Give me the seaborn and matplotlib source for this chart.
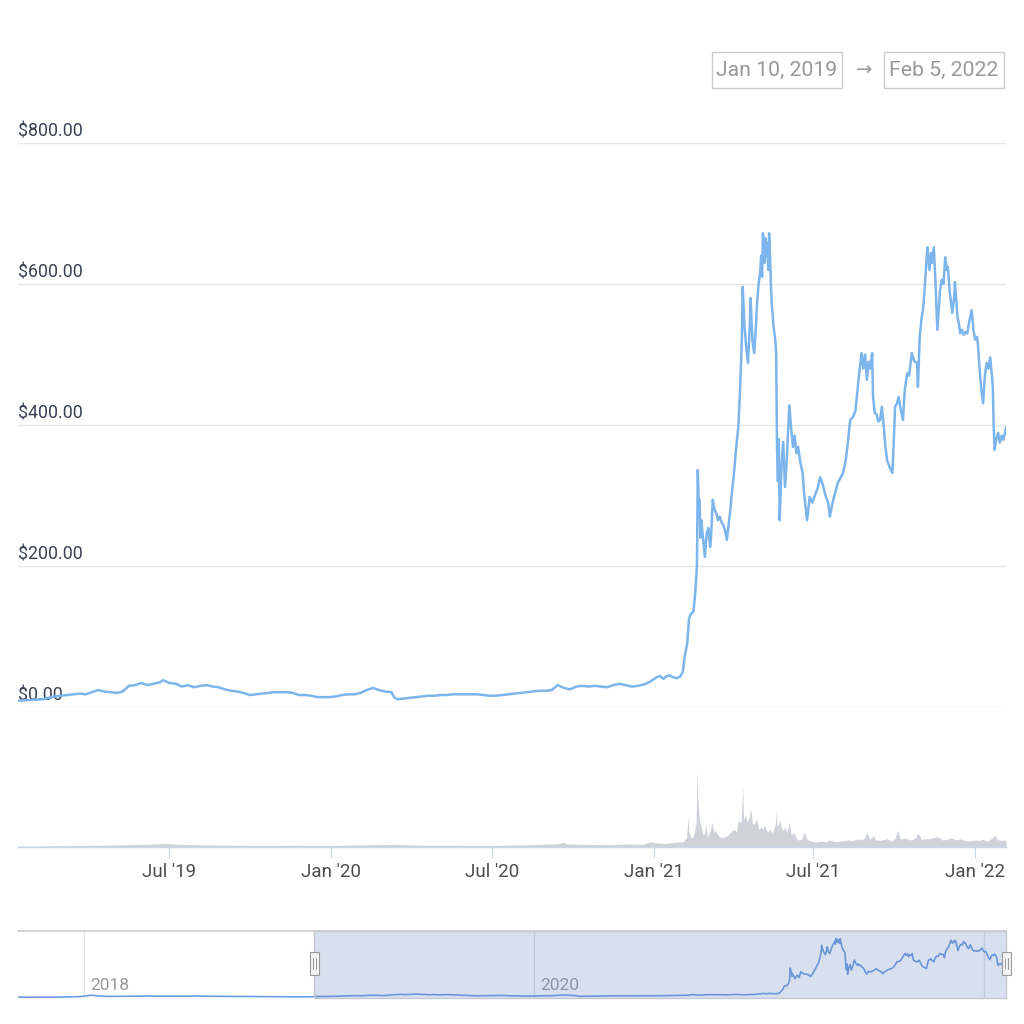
import matplotlib
matplotlib.use("Agg")
import matplotlib.pyplot as plt
import matplotlib.dates as mdates
import matplotlib.transforms as mtransforms
from matplotlib.patches import Rectangle
from matplotlib.lines import Line2D
import seaborn as sns
import pandas as pd

sns.set_theme(style="white")
plt.rcParams['font.family'] = ['Roboto', 'DejaVu Sans']

# ---------------- data ----------------
price_dates = [
    "2019-01-10","2019-01-17","2019-01-24","2019-01-31","2019-02-07","2019-02-14","2019-02-21","2019-02-28",
    "2019-03-07","2019-03-14","2019-03-21","2019-03-28","2019-04-04","2019-04-11","2019-04-18","2019-04-25",
    "2019-05-02","2019-05-09","2019-05-16","2019-05-23","2019-05-30","2019-06-06","2019-06-13","2019-06-20",
    "2019-06-24","2019-07-01","2019-07-08","2019-07-15","2019-07-22","2019-07-29","2019-08-05","2019-08-12",
    "2019-08-19","2019-08-26","2019-09-02","2019-09-09","2019-09-16","2019-09-23","2019-09-30","2019-10-07",
    "2019-10-14","2019-10-21","2019-10-28","2019-11-04","2019-11-11","2019-11-18","2019-11-25","2019-12-02",
    "2019-12-09","2019-12-16","2019-12-23","2019-12-30","2020-01-06","2020-01-13","2020-01-20","2020-01-27",
    "2020-02-03","2020-02-10","2020-02-17","2020-02-24","2020-03-02","2020-03-09","2020-03-12","2020-03-16",
    "2020-03-23","2020-03-30","2020-04-06","2020-04-13","2020-04-20","2020-04-27","2020-05-04","2020-05-11",
    "2020-05-18","2020-05-25","2020-06-01","2020-06-08","2020-06-15","2020-06-22","2020-06-29","2020-07-06",
    "2020-07-13","2020-07-20","2020-07-27","2020-08-03","2020-08-10","2020-08-17","2020-08-24","2020-08-31",
    "2020-09-07","2020-09-14","2020-09-21","2020-09-28","2020-10-05","2020-10-12","2020-10-19","2020-10-26",
    "2020-11-02","2020-11-09","2020-11-16","2020-11-23","2020-11-30","2020-12-07","2020-12-14","2020-12-21",
    "2020-12-28","2021-01-04","2021-01-08","2021-01-12","2021-01-16","2021-01-19","2021-01-23","2021-01-27",
    "2021-01-31","2021-02-03","2021-02-05","2021-02-08","2021-02-10","2021-02-12","2021-02-15","2021-02-17",
    "2021-02-19","2021-02-20","2021-02-21","2021-02-22","2021-02-23","2021-02-24","2021-02-25","2021-02-27",
    "2021-02-28","2021-03-02","2021-03-04","2021-03-06","2021-03-07","2021-03-09","2021-03-11","2021-03-13",
    "2021-03-15","2021-03-17","2021-03-19","2021-03-21","2021-03-23","2021-03-25","2021-03-27","2021-03-29",
    "2021-03-31","2021-04-02","2021-04-04","2021-04-07","2021-04-09","2021-04-11","2021-04-12","2021-04-14",
    "2021-04-16","2021-04-18","2021-04-20","2021-04-21","2021-04-23","2021-04-25","2021-04-27","2021-04-28",
    "2021-04-30","2021-05-02","2021-05-03","2021-05-04","2021-05-05","2021-05-06","2021-05-07","2021-05-08",
    "2021-05-09","2021-05-10","2021-05-11","2021-05-12","2021-05-13","2021-05-14","2021-05-15","2021-05-17",
    "2021-05-19","2021-05-20","2021-05-21","2021-05-22","2021-05-23","2021-05-24","2021-05-26","2021-05-28",
    "2021-05-30","2021-06-01","2021-06-03","2021-06-04","2021-06-06","2021-06-08","2021-06-10","2021-06-12",
    "2021-06-14","2021-06-16","2021-06-19","2021-06-21","2021-06-24","2021-06-26","2021-06-27","2021-06-30",
    "2021-07-03","2021-07-06","2021-07-09","2021-07-12","2021-07-15","2021-07-18","2021-07-20","2021-07-23",
    "2021-07-26","2021-07-29","2021-08-01","2021-08-04","2021-08-07","2021-08-09","2021-08-12","2021-08-15",
    "2021-08-18","2021-08-20","2021-08-22","2021-08-25","2021-08-27","2021-08-29","2021-08-31","2021-09-02",
    "2021-09-04","2021-09-06","2021-09-07","2021-09-09","2021-09-11","2021-09-13","2021-09-15","2021-09-17",
    "2021-09-19","2021-09-21","2021-09-23","2021-09-26","2021-09-29","2021-10-01","2021-10-02","2021-10-04",
    "2021-10-06","2021-10-08","2021-10-11","2021-10-13","2021-10-16","2021-10-18","2021-10-21","2021-10-24",
    "2021-10-27","2021-10-28","2021-10-30","2021-11-01","2021-11-03","2021-11-05","2021-11-07","2021-11-08",
    "2021-11-10","2021-11-12","2021-11-13","2021-11-15","2021-11-17","2021-11-19","2021-11-21","2021-11-22",
    "2021-11-24","2021-11-26","2021-11-28","2021-11-30","2021-12-01","2021-12-03","2021-12-05","2021-12-06",
    "2021-12-08","2021-12-09","2021-12-11","2021-12-12","2021-12-14","2021-12-15","2021-12-17","2021-12-19",
    "2021-12-21","2021-12-23","2021-12-25","2021-12-28","2021-12-30","2022-01-01","2022-01-03","2022-01-04",
    "2022-01-06","2022-01-08","2022-01-10","2022-01-12","2022-01-14","2022-01-16","2022-01-18","2022-01-20",
    "2022-01-21","2022-01-22","2022-01-23","2022-01-25","2022-01-27","2022-01-29","2022-01-31","2022-02-02",
    "2022-02-04","2022-02-05",
]
price_values = [
    9, 9.5, 10, 10.5, 11, 13, 15, 16,
    17, 18, 19, 18, 21, 24, 22, 21,
    20, 22, 30, 31, 34, 31, 33, 35,
    38, 34, 33, 29, 31, 28, 30, 31,
    29, 28, 25, 23, 22, 20, 17, 18,
    19, 20, 21, 21, 21, 20, 17, 17,
    16, 14, 14, 14, 15, 17, 18, 18,
    20, 24, 27, 24, 22, 21, 14, 11,
    12, 13, 14, 15, 16, 16, 17, 17,
    18, 18, 18, 18, 18, 17, 16, 16,
    17, 18, 19, 20, 21, 22, 23, 23,
    24, 31, 27, 25, 29, 30, 29, 30,
    29, 28, 31, 33, 31, 29, 30, 32,
    36, 42, 44, 40, 44, 45, 42, 41,
    43, 50, 71, 90, 125, 132, 135, 160,
    199, 336, 290, 294, 240, 265, 251, 225,
    213, 245, 254, 227, 240, 294, 280, 275,
    265, 270, 262, 258, 250, 237, 258, 280,
    308, 330, 360, 397, 450, 520, 596, 540,
    510, 488, 540, 580, 520, 502, 540, 567,
    600, 620, 640, 610, 672, 640, 630, 665,
    640, 658, 620, 672, 640, 600, 573, 540,
    520, 502, 365, 320, 380, 265, 340, 376,
    312, 350, 400, 428, 395, 369, 385, 360,
    369, 350, 332, 300, 265, 285, 298, 290,
    300, 310, 326, 315, 300, 290, 270, 290,
    304, 318, 325, 332, 350, 370, 407, 411,
    420, 445, 470, 502, 480, 500, 464, 490,
    480, 502, 440, 417, 415, 405, 407, 426,
    400, 370, 350, 340, 332, 390, 426, 430,
    440, 425, 407, 450, 474, 470, 502, 490,
    488, 454, 525, 550, 566, 600, 640, 652,
    620, 644, 630, 652, 600, 535, 570, 590,
    606, 600, 638, 620, 624, 590, 570, 559,
    580, 603, 570, 553, 540, 530, 535, 528,
    532, 530, 545, 563, 535, 521, 525, 516,
    480, 450, 431, 470, 488, 480, 496, 470,
    454, 400, 365, 380, 389, 375, 385, 379,
    390, 397,
]

volume_dates = [
    "2019-01-10","2019-02-15","2019-03-15","2019-04-15","2019-05-15","2019-06-15","2019-06-25","2019-07-15",
    "2019-08-15","2019-09-15","2019-10-15","2019-11-15","2019-12-15","2020-01-15","2020-02-15","2020-03-15",
    "2020-04-15","2020-05-15","2020-06-15","2020-07-15","2020-08-15","2020-09-15","2020-09-20","2020-09-25",
    "2020-10-15","2020-11-15","2020-12-01","2020-12-20","2020-12-28","2021-01-04","2021-01-15","2021-01-25",
    "2021-02-03","2021-02-07","2021-02-09","2021-02-10","2021-02-12","2021-02-15","2021-02-18","2021-02-19",
    "2021-02-20","2021-02-21","2021-02-22","2021-02-24","2021-02-26","2021-02-28","2021-03-01","2021-03-03",
    "2021-03-06","2021-03-08","2021-03-10","2021-03-12","2021-03-15","2021-03-18","2021-03-22","2021-03-25",
    "2021-03-29","2021-04-02","2021-04-05","2021-04-07","2021-04-10","2021-04-12","2021-04-13","2021-04-15",
    "2021-04-17","2021-04-19","2021-04-21","2021-04-23","2021-04-25","2021-04-27","2021-04-28","2021-04-30",
    "2021-05-03","2021-05-05","2021-05-07","2021-05-09","2021-05-10","2021-05-13","2021-05-16","2021-05-19",
    "2021-05-20","2021-05-21","2021-05-23","2021-05-24","2021-05-26","2021-05-28","2021-05-30","2021-06-01",
    "2021-06-04","2021-06-06","2021-06-08","2021-06-10","2021-06-12","2021-06-14","2021-06-18","2021-06-21",
    "2021-06-23","2021-06-25","2021-06-29","2021-07-03","2021-07-10","2021-07-15","2021-07-20","2021-07-25",
    "2021-08-01","2021-08-06","2021-08-10","2021-08-15","2021-08-20","2021-08-25","2021-08-28","2021-08-31",
    "2021-09-03","2021-09-07","2021-09-10","2021-09-15","2021-09-20","2021-09-23","2021-09-28","2021-10-02",
    "2021-10-05","2021-10-08","2021-10-12","2021-10-15","2021-10-20","2021-10-25","2021-10-28","2021-11-01",
    "2021-11-05","2021-11-10","2021-11-15","2021-11-19","2021-11-25","2021-11-30","2021-12-04","2021-12-10",
    "2021-12-15","2021-12-20","2021-12-25","2022-01-01","2022-01-05","2022-01-10","2022-01-15","2022-01-21",
    "2022-01-23","2022-01-26","2022-01-30","2022-02-02","2022-02-05",
]
volume_values = [
    0.15, 0.2, 0.25, 0.3, 0.4, 0.5, 0.6, 0.45,
    0.35, 0.3, 0.25, 0.3, 0.25, 0.3, 0.4, 0.45,
    0.3, 0.3, 0.25, 0.3, 0.4, 0.55, 0.8, 0.5,
    0.45, 0.4, 0.5, 0.45, 0.9, 0.7, 0.6, 0.8,
    0.9, 1.5, 5.1, 2.5, 1.5, 1.8, 4.0, 13.3,
    8.0, 6.3, 4.5, 3.4, 2.0, 2.5, 3.9, 1.7,
    2.8, 4.2, 2.5, 2.9, 2.0, 1.6, 1.7, 1.9,
    2.5, 3.0, 2.6, 4.6, 4.0, 10.2, 4.6, 5.5,
    4.2, 5.0, 6.5, 4.0, 3.9, 4.5, 4.8, 3.0,
    3.4, 3.0, 3.7, 2.8, 2.6, 3.0, 2.4, 4.0,
    6.3, 3.5, 4.0, 4.8, 3.2, 2.8, 3.4, 2.5,
    4.2, 2.0, 2.4, 2.2, 1.4, 1.2, 1.3, 2.6,
    1.6, 1.2, 1.0, 0.85, 1.0, 0.9, 1.2, 0.9,
    1.0, 1.1, 1.2, 1.1, 1.4, 1.2, 1.5, 2.6,
    1.3, 1.9, 1.2, 1.1, 1.3, 1.4, 1.0, 1.5,
    2.9, 1.3, 1.5, 1.4, 1.2, 1.5, 2.4, 1.3,
    1.4, 1.4, 1.6, 1.8, 1.2, 1.3, 1.6, 1.2,
    1.4, 1.1, 1.0, 1.2, 1.1, 1.3, 1.0, 1.6,
    2.0, 1.3, 1.1, 1.2, 1.1,
]

# navigator history before the selected range
nav_pre_dates = [
    "2017-09-16","2017-10-15","2017-11-15","2017-12-10","2017-12-28","2018-01-10","2018-01-14","2018-01-25",
    "2018-02-10","2018-03-10","2018-04-10","2018-05-10","2018-06-10","2018-07-10","2018-08-10","2018-09-10",
    "2018-10-10","2018-11-10","2018-12-10","2019-01-05",
]
nav_pre_values = [
    1.2, 1.5, 1.8, 5, 9, 22, 24, 15,
    10, 12, 14, 13, 14, 14, 11, 10,
    10, 7, 5.5, 6,
]

y_ticks = [0, 200, 400, 600, 800]
y_tick_labels = ["$0.00", "$200.00", "$400.00", "$600.00", "$800.00"]
x_ticks = ["2019-07-01", "2020-01-01", "2020-07-01", "2021-01-01", "2021-07-01", "2022-01-01"]
x_tick_labels = ["Jul '19", "Jan '20", "Jul '20", "Jan '21", "Jul '21", "Jan '22"]
nav_ticks = ["2018-01-01", "2020-01-01", "2022-01-01"]
nav_tick_labels = ["2018", "2020", ""]
range_labels = ["Jan 10, 2019", "Feb 5, 2022"]
range_start, range_end = "2019-01-10", "2022-02-05"
nav_start = "2017-09-16"

# ---------------- layout helpers ----------------
W = H = 1024.0
def fx(x): return x / W
def fy(y): return 1 - y / H

LINE = "#7cb5ec"
GRID = "#e6e6e6"

price = pd.DataFrame({"date": pd.to_datetime(price_dates), "price": price_values})
vol = pd.DataFrame({"date": pd.to_datetime(volume_dates), "vol": volume_values})
nav = pd.concat([pd.DataFrame({"date": pd.to_datetime(nav_pre_dates), "price": nav_pre_values}), price],
                ignore_index=True)

t0, t1 = pd.Timestamp(range_start), pd.Timestamp(range_end)

fig = plt.figure(figsize=(10.24, 10.24), dpi=100)
fig.patch.set_facecolor("white")

# ---------------- price pane ----------------
ax = fig.add_axes([fx(18), fy(707), 988 / W, 564 / H])
ax.set_facecolor("none")
for v, lab in zip(y_ticks, y_tick_labels):
    ax.axhline(v, color=GRID, lw=1.0, zorder=0)
    ax.annotate(lab, xy=(0, v), xycoords=("axes fraction", "data"), xytext=(0, 8),
                textcoords="offset points", ha="left", va="center", fontsize=12.8,
                color="#3a4252", zorder=1)
sns.lineplot(data=price, x="date", y="price", ax=ax, color=LINE, lw=1.8, zorder=3)
ax.set_xlim(t0, t1)
ax.set_ylim(0, 800)
ax.set_xlabel(""); ax.set_ylabel("")
ax.set_xticks([]); ax.set_yticks([])
for s in ax.spines.values():
    s.set_visible(False)

# ---------------- volume pane ----------------
vax = fig.add_axes([fx(18), fy(847), 988 / W, 110 / H])
vax.set_facecolor("none")
vax.fill_between(vol["date"], vol["vol"], 0, color="#cfd2d9", lw=0)
vax.set_xlim(t0, t1)
vax.set_ylim(0, 13.3 * 110 / 78)
vax.set_yticks([])
vax.set_xticks(pd.to_datetime(x_ticks))
vax.set_xticklabels(x_tick_labels, fontsize=13.5, color="#4d4d4d")
vax.tick_params(axis="x", direction="out", length=7.9, width=0.8, color="#ccd6eb", pad=3.5, bottom=True)
for k, s in vax.spines.items():
    s.set_visible(k == "bottom")
vax.spines["bottom"].set_color("#ccd6eb")
vax.spines["bottom"].set_linewidth(1.0)

# ---------------- navigator ----------------
nax = fig.add_axes([fx(18), fy(998), 988 / W, 67 / H])
nax.set_facecolor("none")
n0 = pd.Timestamp(nav_start)
for d, lab in zip(nav_ticks, nav_tick_labels):
    nax.axvline(pd.Timestamp(d), color="#e3e3e3", lw=1.0, zorder=0)
    if lab:
        nax.annotate(lab, xy=(pd.Timestamp(d), 0.19), xycoords=("data", "axes fraction"),
                     xytext=(4.3, 0), textcoords="offset points", ha="left", va="center",
                     fontsize=12.5, color="#9a9a9a")
sns.lineplot(data=nav, x="date", y="price", ax=nax, color="#6c9de2", lw=1.2, zorder=2)
nax.set_xlim(n0, t1)
nax.set_ylim(-8, 760)
nax.set_xlabel(""); nax.set_ylabel("")
nax.set_xticks([]); nax.set_yticks([])
for s in nax.spines.values():
    s.set_visible(False)
# selection mask
trans = mtransforms.blended_transform_factory(nax.transData, nax.transAxes)
x0n, x1n = mdates.date2num(t0), mdates.date2num(t1)
nax.add_patch(Rectangle((x0n, 0), x1n - x0n, 1, transform=trans,
                        facecolor=(102 / 255, 133 / 255, 194 / 255, 0.25),
                        edgecolor="#c4c8d0", lw=1.0, zorder=3, clip_on=False))
nax.add_line(Line2D([0, 1], [1, 1], transform=nax.transAxes, color="#cccccc", lw=1.2, clip_on=False))

# handles
for hx in (x0n, x1n):
    cx = nax.transData.transform((hx, 0))[0]  # display px
    cxf = cx / fig.bbox.width
    hw, hh = 9 / W, 23 / H
    fig.add_artist(Rectangle((cxf - hw / 2, fy(975)), hw, hh, transform=fig.transFigure,
                             facecolor="#f2f2f2", edgecolor="#999999", lw=0.8, zorder=5))
    for off in (-1.5, 1.5):
        fig.add_artist(Line2D([cxf + off / W, cxf + off / W], [fy(969), fy(958)],
                              transform=fig.transFigure, color="#999999", lw=0.7, zorder=6))

# ---------------- range selector boxes ----------------
for (xa, xb), lab in zip([(712, 842), (884, 1004)], range_labels):
    fig.add_artist(Rectangle((fx(xa), fy(88)), (xb - xa) / W, 36 / H, transform=fig.transFigure,
                             facecolor="white", edgecolor="#cccccc", lw=1.0))
    fig.text(fx((xa + xb) / 2), fy(70), lab, ha="center", va="center", fontsize=15.3, color="#999999")
fig.text(fx(864), fy(70), "\u2192", ha="center", va="center", fontsize=14, color="#999999",
         family=["DejaVu Sans"])

fig.savefig("out.png", dpi=100, facecolor="white")
